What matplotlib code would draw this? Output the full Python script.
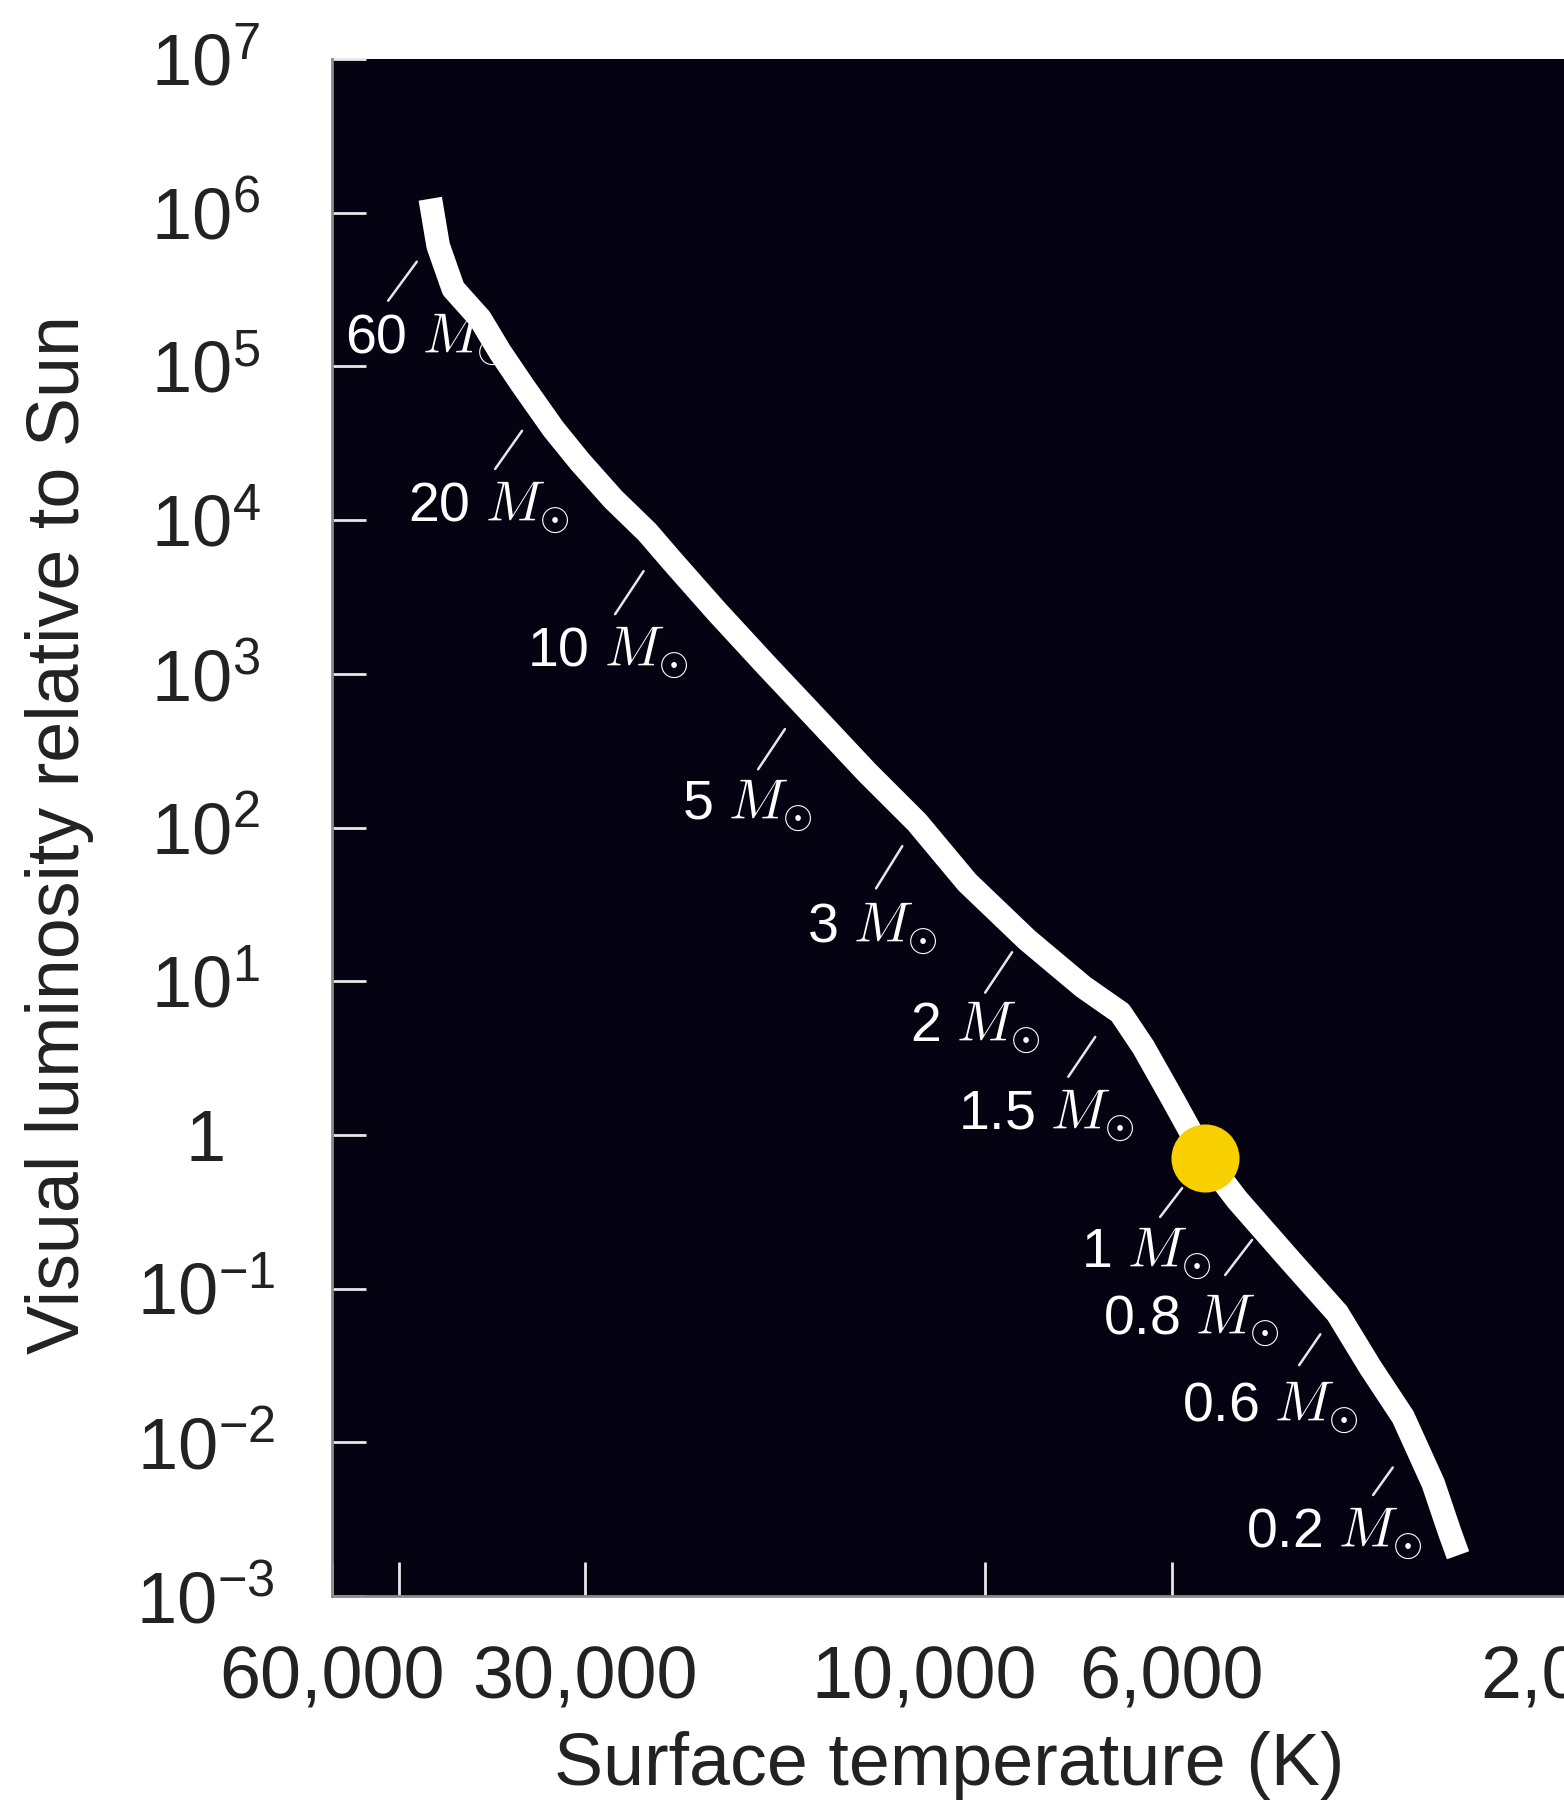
import numpy as np
import matplotlib
matplotlib.use('Agg')
import matplotlib.pyplot as plt
import matplotlib.transforms as mtransforms
from matplotlib.ticker import FixedLocator, FixedFormatter, NullFormatter

plt.rcParams['font.family'] = ['Liberation Sans', 'DejaVu Sans']
plt.rcParams['mathtext.fontset'] = 'custom'
plt.rcParams['mathtext.rm'] = 'Liberation Sans'
plt.rcParams['mathtext.it'] = 'Liberation Sans:italic'

# main sequence band (temperature K, luminosity rel. to Sun)
ms_temp = [45830, 44850, 43030, 39970, 37840, 35530, 32700, 30380, 27750, 25280,
           23540, 20860, 18190, 15860, 13830, 12060, 10510, 8917, 7647, 6907,
           6486, 5975, 5473, 5012, 4335, 3809, 3480, 3180, 2928, 2795, 2735]
ms_lum = [1.233e6, 6.10e5, 3.20e5, 2.04e5, 1.24e5, 7.46e4, 3.92e4, 2.39e4, 1.37e4, 8360,
          5320, 2520, 1120, 506, 228, 108, 43.9, 18.6, 9.20, 6.24,
          3.74, 1.69, 0.708, 0.378, 0.153, 0.0692, 0.0308, 0.0146, 0.0054, 0.00255, 0.00184]

# the Sun
sun_temp = 5473
sun_lum = 0.708

# where each mass sits along the band
mass_labels = ['60', '20', '10', '5', '3', '2', '1.5', '1', '0.8', '0.6', '0.2']
mass_temp = [45220, 34090, 24400, 16530, 12060, 9015, 7021, 5473, 4693, 3821, 3094]
mass_lum = [6.98e5, 5.37e4, 6770, 643, 108, 19.8, 6.62, 0.708, 0.248, 0.0713, 0.0105]

# leader start offset (px) and gap to the band (px), label offset (px)
leader_off = [(-47, -64), (-43, -61), (-45, -68), (-44, -66), (-41, -66), (-38, -57),
              (-46, -68), (-45, -59), (-36, -47), (-37, -54), (-40, -56)]
leader_gap = [31, 28, 30, 31, 28, 20, 34, 38, 15, 28, 35]
label_off = [(-90, -117), (-130, -114), (-133, -120), (-120, -116), (-110, -120), (-113, -106),
             (-156, -121), (-124, -109), (-158, -106), (-154, -110), (-167, -108)]

x_ticks = [60000, 30000, 10000, 6000, 2000]
x_ticklabels = ['60,000', '30,000', '10,000', '6,000', '2,000']
x_minor = [50000]
y_ticks = [1e-3, 1e-2, 1e-1, 1, 1e1, 1e2, 1e3, 1e4, 1e5, 1e6, 1e7]
y_ticklabels = [r'$10^{-3}$', r'$10^{-2}$', r'$10^{-1}$', '1', r'$10^{1}$', r'$10^{2}$',
                r'$10^{3}$', r'$10^{4}$', r'$10^{5}$', r'$10^{6}$', r'$10^{7}$']

fig = plt.figure(figsize=(15.64, 18.05), dpi=100)
fig.patch.set_facecolor('white')
ax = fig.add_axes([0.2123, 0.1158, 0.860, 0.8515])
ax.set_facecolor('#050312')

ax.set_xscale('log')
ax.set_yscale('log')
ax.set_xlim(60000, 1500)
ax.set_ylim(1e-3, 1e7)

ax.plot(ms_temp, ms_lum, color='white', lw=17, solid_capstyle='butt',
        solid_joinstyle='round', zorder=3)
ax.plot(sun_temp, sun_lum, 'o', ms=49, color='#f8d000', mec='none', zorder=5)

for i in range(len(mass_labels)):
    ax.annotate('', xy=(mass_temp[i], mass_lum[i]), xytext=leader_off[i],
                textcoords='offset pixels',
                arrowprops=dict(arrowstyle='-', color='#e6e6e6', lw=1.8,
                                shrinkA=0, shrinkB=leader_gap[i] * 0.72))
    ax.annotate(mass_labels[i] + r' $M_{\odot}$', xy=(mass_temp[i], mass_lum[i]),
                xytext=label_off[i], textcoords='offset pixels',
                ha='left', va='baseline', color='white', fontsize=40,
                math_fontfamily='cm', zorder=6)

ax.xaxis.set_major_locator(FixedLocator(x_ticks))
ax.xaxis.set_major_formatter(FixedFormatter(x_ticklabels))
ax.xaxis.set_minor_locator(FixedLocator(x_minor))
ax.xaxis.set_minor_formatter(NullFormatter())
ax.yaxis.set_major_locator(FixedLocator(y_ticks))
ax.yaxis.set_major_formatter(FixedFormatter(y_ticklabels))
ax.yaxis.set_minor_locator(FixedLocator([]))

ax.tick_params(axis='both', which='both', direction='in', length=24.5, width=2,
               color='#e8e8e8', labelcolor='#222222')
ax.tick_params(axis='x', labelsize=53, pad=35)
ax.tick_params(axis='y', labelsize=52, pad=91)
plt.setp(ax.get_yticklabels(), ha='center')

# the 10,000 label sits left of its tick so it clears 6,000
for lab in ax.get_xticklabels():
    if lab.get_text() == '10,000':
        lab.set_transform(lab.get_transform() +
                          mtransforms.ScaledTranslation(-0.61, 0, fig.dpi_scale_trans))

for side in ['left', 'bottom']:
    ax.spines[side].set_color('#8a8a8a')
    ax.spines[side].set_linewidth(2)
ax.spines['top'].set_visible(False)
ax.spines['right'].set_visible(False)

ax.set_xlabel('Surface temperature (K)', fontsize=53, color='#222222')
ax.set_ylabel('Visual luminosity relative to Sun', fontsize=53, color='#222222')
ax.xaxis.set_label_coords(0.4587, -0.0878)
ax.xaxis.label.set_va('top')
ax.yaxis.set_label_coords(-0.177, 0.4954)

fig.savefig('out.png', dpi=100)
